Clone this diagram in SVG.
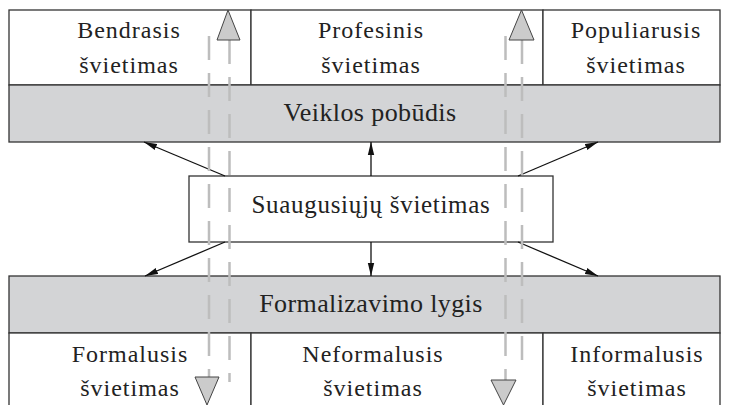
<svg xmlns="http://www.w3.org/2000/svg" width="729" height="405" viewBox="0 0 729 405">
<style>
.cell{fill:#fff;stroke:#333;stroke-width:1.3}
.band{fill:#d3d4d6;stroke:#333;stroke-width:1.3}
.t{font-family:"Liberation Serif","Times New Roman",serif;fill:#222;text-anchor:middle}
.ts{font-size:24px;letter-spacing:1px}
.tb{font-size:26px;letter-spacing:0.4px}
.tc{font-size:25px;letter-spacing:0.7px}
.arr{stroke:#111;stroke-width:1.3;fill:none;marker-end:url(#ah)}
.dash{stroke:#bdbdbd;stroke-width:2.5;fill:none;stroke-dasharray:24 13}
.tri{fill:#cbcbcb;stroke:#444;stroke-width:1}
</style>
<defs>
<marker id="ah" markerWidth="14" markerHeight="8" refX="13" refY="4" orient="auto" markerUnits="userSpaceOnUse">
<path d="M0,0.8 L13,4 L0,7.2 Z" fill="#111"/>
</marker>
</defs>
<rect width="729" height="405" fill="#fff"/>
<g id="top-row">
<g id="bendrasis"><rect class="cell" x="9" y="10" width="242" height="75"/><text class="t ts" x="129" y="38">Bendrasis</text><text class="t ts" x="129" y="73">švietimas</text></g>
<g id="profesinis"><rect class="cell" x="251" y="10" width="292" height="75"/><text class="t ts" x="371" y="38">Profesinis</text><text class="t ts" x="371" y="73">švietimas</text></g>
<g id="populiarusis"><rect class="cell" x="543" y="10" width="177" height="75"/><text class="t ts" x="636" y="38">Populiarusis</text><text class="t ts" x="636" y="73">švietimas</text></g>
</g>
<g id="veiklos"><rect class="band" x="9" y="85" width="711" height="57"/><text class="t tb" x="370" y="121">Veiklos pobūdis</text></g>
<g id="formalizavimo"><rect class="band" x="9" y="276" width="711" height="57"/><text class="t tb" x="371" y="312">Formalizavimo lygis</text></g>
<g id="bottom-row">
<g id="formalusis"><rect class="cell" x="9" y="333" width="242" height="80"/><text class="t ts" x="130" y="362">Formalusis</text><text class="t ts" x="130" y="396">švietimas</text></g>
<g id="neformalusis"><rect class="cell" x="251" y="333" width="292" height="80"/><text class="t ts" x="373" y="362">Neformalusis</text><text class="t ts" x="373" y="396">švietimas</text></g>
<g id="informalusis"><rect class="cell" x="543" y="333" width="177" height="80"/><text class="t ts" x="637" y="362">Informalusis</text><text class="t ts" x="637" y="396">švietimas</text></g>
</g>
<g id="suaugusiuju"><rect class="cell" x="189" y="176" width="364" height="66"/><text class="t tc" x="371" y="213">Suaugusiųjų švietimas</text></g>
<g id="connectors">
<line class="arr" x1="225" y1="176" x2="144" y2="142"/>
<line class="arr" x1="371" y1="176" x2="371" y2="142"/>
<line class="arr" x1="518" y1="176" x2="598" y2="142"/>
<line class="arr" x1="225" y1="242" x2="145" y2="276"/>
<line class="arr" x1="371" y1="242" x2="371" y2="276"/>
<line class="arr" x1="518" y1="242" x2="598" y2="276"/>
<line class="dash" x1="209" y1="36" x2="209" y2="378"/>
<line class="dash" x1="229.5" y1="40" x2="229.5" y2="382"/>
<line class="dash" x1="505.5" y1="36" x2="505.5" y2="381"/>
<line class="dash" x1="522" y1="40" x2="522" y2="373"/>
<polygon class="tri" points="228,10 217,40 240,40"/>
<polygon class="tri" points="521.5,10 509,40 534,40"/>
<polygon class="tri" points="195,377 219,377 207,405"/>
<polygon class="tri" points="491,380 516,380 503.5,405"/>
</g>
</svg>
